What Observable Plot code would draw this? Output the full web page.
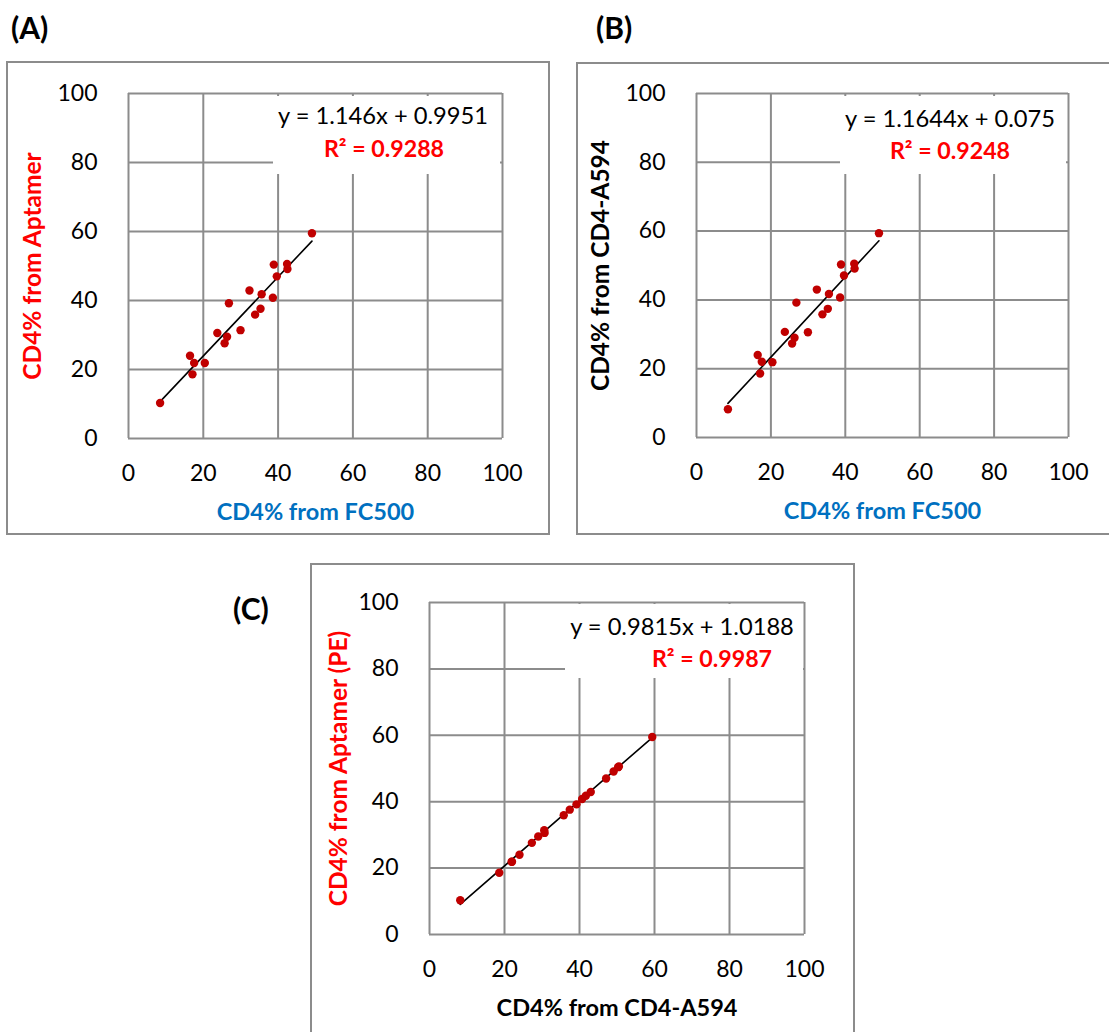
<!DOCTYPE html>
<html>
<head>
<meta charset="utf-8">
<script src="https://cdn.jsdelivr.net/npm/d3@7"></script>
<script src="https://cdn.jsdelivr.net/npm/@observablehq/plot@0.6"></script>
<style>
  html, body { margin: 0; padding: 0; background: white; }
  #root { position: relative; width: 1109px; height: 1032px; overflow: hidden; font-family: Lato, "Open Sans", sans-serif; }
  .panel { position: absolute; outline: 2px solid #8c8c8c; outline-offset: -1px; background: white; }
  .panel svg { position: absolute; left: 0; top: 0; }
  .tag { position: absolute; font-weight: bold; font-size: 30px; line-height: 1; transform: translate(0, -50%); }
  .eqbox { position: absolute; background: white; }
  .eq { position: absolute; white-space: nowrap; font-size: 23.7px; line-height: 1; transform: translate(-50%, -50%); }
  .r2 { position: absolute; white-space: nowrap; font-size: 23.2px; font-weight: bold; color: #ff0000; line-height: 1; transform: translate(-50%, -50%); }
</style>
</head>
<body>
<div id="root"></div>
<script>
// ---- data, one entry per sample ----
const cd4FC500    = [8.45, 16.45, 17.55, 17.1, 20.4, 23.75, 26.35, 25.7, 26.85, 29.95, 32.35, 33.85, 35.3, 35.6, 38.6, 38.85, 39.65, 42.4, 42.5, 49.05];
const cd4Aptamer  = [10.3, 24.0, 21.9, 18.6, 21.9, 30.6, 29.5, 27.6, 39.2, 31.4, 42.9, 35.9, 37.6, 41.8, 40.8, 50.4, 47.0, 50.6, 49.1, 59.5];
const cd4A594     = [8.2, 24.0, 22.0, 18.6, 21.9, 30.7, 29.0, 27.3, 39.2, 30.6, 43.0, 35.8, 37.4, 41.7, 40.7, 50.3, 47.1, 50.5, 49.1, 59.4];

const axisTicks = [0, 20, 40, 60, 80, 100];

const panelTags   = ["(A)", "(B)", "(C)"];
const slopes      = [1.146, 1.1644, 0.9815];
const intercepts  = [0.9951, 0.075, 1.0188];
const eqTexts     = ["y = 1.146x + 0.9951", "y = 1.1644x + 0.075", "y = 0.9815x + 1.0188"];
const r2Texts     = ["R² = 0.9288", "R² = 0.9248", "R² = 0.9987"];
const xTitles     = ["CD4% from FC500", "CD4% from FC500", "CD4% from CD4-A594"];
const yTitles     = ["CD4% from Aptamer", "CD4% from CD4-A594", "CD4% from Aptamer (PE)"];
const xTitleColors = ["#0070c0", "#0070c0", "#000000"];
const yTitleColors = ["#ff0000", "#000000", "#ff0000"];
const xSeries = [cd4FC500, cd4FC500, cd4A594];
const ySeries = [cd4Aptamer, cd4A594, cd4Aptamer];

// ---- layout ----
const layouts = [
  {left: 7,   top: 62,  width: 542, height: 472, mL: 121, mR: 47, mT: 31, mB: 96,  yTitleDx: -95,
   tag: {left: 11, top: 27}, box: {left: 273, top: 96, width: 227, height: 78}, eq: {x: 383, y: 116}, r2: {x: 384, y: 149}},
  {left: 577, top: 63,  width: 540, height: 471, mL: 119, mR: 49, mT: 30, mB: 97,  yTitleDx: -95,
   tag: {left: 596, top: 27}, box: {left: 840, top: 96, width: 226, height: 78}, eq: {x: 950, y: 119}, r2: {x: 950, y: 151}},
  {left: 311, top: 564, width: 543, height: 472, mL: 118, mR: 50, mT: 38, mB: 102, yTitleDx: -90,
   tag: {left: 233, top: 608}, box: {left: 565, top: 604, width: 238, height: 74}, eq: {x: 682, y: 627}, r2: {x: 712, y: 659}}
];

const root = document.getElementById("root");
const gridStyle = {stroke: "#8c8c8c", strokeOpacity: 1, strokeWidth: 2};

layouts.forEach((L, i) => {
  const pts = xSeries[i].map((v, j) => ({x: v, y: ySeries[i][j]}));
  const ext = d3.extent(xSeries[i]);
  const fit = ext.map(v => ({x: v, y: slopes[i] * v + intercepts[i]}));

  const chart = Plot.plot({
    width: L.width,
    height: L.height,
    marginLeft: L.mL, marginRight: L.mR, marginTop: L.mT, marginBottom: L.mB,
    style: {fontFamily: "Lato, 'Open Sans', sans-serif", background: "transparent", overflow: "visible", color: "black"},
    x: {domain: [0, 100], label: null},
    y: {domain: [0, 100], label: null},
    marks: [
      Plot.gridX(axisTicks, gridStyle),
      Plot.gridY(axisTicks, gridStyle),
      Plot.axisX(axisTicks, {tickSize: 0, tickPadding: 26, fontSize: 23, label: null}),
      Plot.axisY(axisTicks, {tickSize: 0, tickPadding: 31, fontSize: 23, label: null}),
      Plot.line(fit, {x: "x", y: "y", stroke: "black", strokeWidth: 1.6}),
      Plot.dot(pts, {x: "x", y: "y", r: 4.2, fill: "#c00000", stroke: "none"}),
      Plot.text([xTitles[i]], {text: d => d, frameAnchor: "bottom", dy: 74, lineAnchor: "middle", textAnchor: "middle",
        fill: xTitleColors[i], fontWeight: "bold", fontSize: 23.5}),
      Plot.text([yTitles[i]], {text: d => d, frameAnchor: "left", dx: L.yTitleDx, rotate: -90, lineAnchor: "middle", textAnchor: "middle",
        fill: yTitleColors[i], fontWeight: "bold", fontSize: 24.5})
    ]
  });

  const panel = document.createElement("div");
  panel.className = "panel";
  Object.assign(panel.style, {left: L.left + "px", top: L.top + "px", width: L.width + "px", height: L.height + "px"});
  panel.appendChild(chart);
  root.appendChild(panel);

  const box = document.createElement("div");
  box.className = "eqbox";
  Object.assign(box.style, {left: L.box.left + "px", top: L.box.top + "px", width: L.box.width + "px", height: L.box.height + "px"});
  root.appendChild(box);

  const eq = document.createElement("div");
  eq.className = "eq";
  eq.textContent = eqTexts[i];
  Object.assign(eq.style, {left: L.eq.x + "px", top: L.eq.y + "px"});
  root.appendChild(eq);

  const r2 = document.createElement("div");
  r2.className = "r2";
  r2.textContent = r2Texts[i];
  Object.assign(r2.style, {left: L.r2.x + "px", top: L.r2.y + "px"});
  root.appendChild(r2);

  const tag = document.createElement("div");
  tag.className = "tag";
  tag.textContent = panelTags[i];
  Object.assign(tag.style, {left: L.tag.left + "px", top: L.tag.top + "px"});
  root.appendChild(tag);
});
</script>
</body>
</html>
